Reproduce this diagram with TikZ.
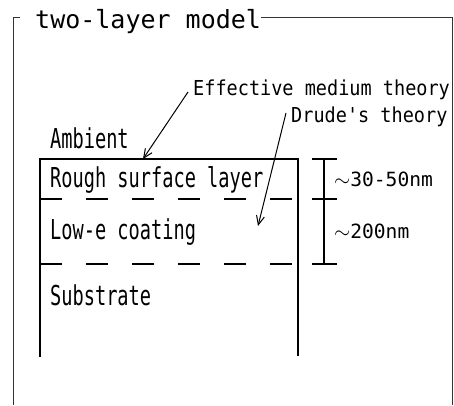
\documentclass[tikz,border=0pt]{standalone}
\usepackage{fontspec}
\usepackage{tikz}
\usetikzlibrary{arrows.meta,positioning}
\newfontfamily\layerfont[FakeStretch=0.68]{DejaVu Sans Mono}
\newfontfamily\notefont[FakeStretch=0.9]{DejaVu Sans Mono}
\newfontfamily\dimfont{DejaVu Sans Mono}
\tikzset{
  lbl/.style={inner sep=0pt,anchor=base west,
              font=\layerfont\fontsize{27.4}{30}\selectfont},
  note/.style={lbl,font=\notefont\fontsize{20.6}{24}\selectfont},
  wall/.style={line width=1.2pt,draw=black},
  frame/.style={line width=0.9pt,draw=black!80},
  pointer/.style={-{Straight Barb[length=9pt,width=8pt]},line width=1pt,draw=black}
}

\begin{document}
\begin{tikzpicture}[
  x=1pt,y=-1pt,
  layersep/.style={wall,dash pattern=on 22pt off 24pt},
  dimtick/.style={wall},
  dimlbl/.style={lbl,anchor=west,font=\dimfont\fontsize{19.6}{23}\selectfont}
]
  \useasboundingbox (0,0) rectangle (454,405);
  % frame with title
  \node[lbl,font=\dimfont\fontsize{25}{28}\selectfont] (title) at (35,28) {two-layer model};
  \coordinate (ftl) at (13,17);
  \coordinate (ftr) at (452,17);
  \draw[frame] ([xshift=7pt]ftl) -- (ftl) -- (13,405);
  \draw[frame] (title.east |- ftr) -- (ftr) -- (452,405);
  % layer stack (open at the bottom)
  \coordinate (btl) at (40,159);
  \coordinate (btr) at (298,159);
  \draw[wall] (40,357) -- (btl) -- (btr) -- (298,356);
  \draw[layersep] (40,199) -- (298,199);
  \draw[layersep] (40,264) -- (298,264);
  \node[lbl] (ambient) at (50,148) {Ambient};
  \node[lbl] (rough) at (50,187) {Rough surface layer};
  \node[lbl] (lowe) at (50,239) {Low-e coating};
  \node[lbl] (sub) at (50,305) {Substrate};
  % models
  \node[note] (emt) at (193,95) {Effective medium theory};
  \node[note] (drude) at (291,122) {Drude's theory};
  \coordinate (emttip) at (143,159);
  \coordinate (drudetip) at (258,226);
  \draw[pointer] ([xshift=-5pt,yshift=3pt]emt.base west) -- (emttip);
  \draw[pointer] ([xshift=-5pt,yshift=9pt]drude.base west) -- (drudetip);
  % thicknesses
  \coordinate (dtop) at (324,159);
  \coordinate (dmid) at (324,199);
  \coordinate (dbot) at (324,264);
  \draw[wall] (dtop) -- (dbot);
  \foreach \c in {dtop,dmid,dbot}
    \draw[dimtick] ([xshift=-12pt]\c) -- ([xshift=13pt]\c);
  \node[dimlbl] (thin) at (334,179) {$\sim$30-50nm};
  \node[dimlbl] (thick) at (334,231) {$\sim$200nm};
\end{tikzpicture}
\end{document}
